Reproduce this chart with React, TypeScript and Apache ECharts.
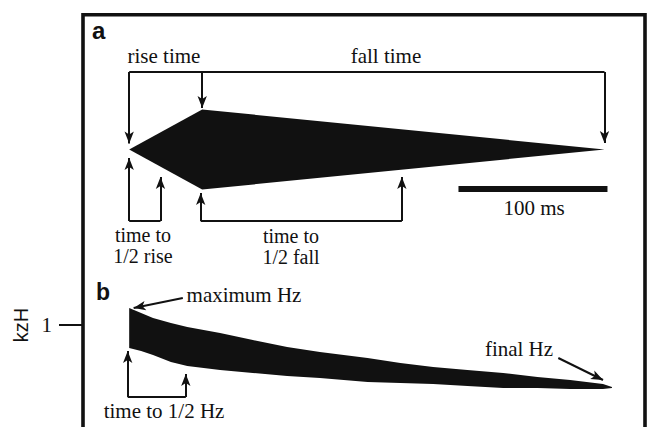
import React, { useEffect, useRef } from "react";
import * as echarts from "echarts";

// Panel a: amplitude envelope (time in ms, relative amplitude)
const envelopeTimeMs = [0, 49, 319, 49];
const envelopeAmp = [0, 1, 0, -1];

// Panel b: frequency band (time in ms, kHz)
const bandTimeMs = [0, 8, 16, 28, 39, 61, 83, 106, 128, 160, 182, 204, 227, 251, 274, 296, 318, 324];
const bandTopKHz = [1.17, 1.12, 1.07, 1.02, 0.98, 0.92, 0.85, 0.78, 0.73, 0.67, 0.62, 0.58, 0.55, 0.52, 0.48, 0.45, 0.41, 0.38];
const bandBottomKHz = [0.77, 0.74, 0.7, 0.63, 0.59, 0.55, 0.52, 0.49, 0.47, 0.43, 0.42, 0.41, 0.39, 0.37, 0.37, 0.36, 0.36, 0.37];

// Annotation landmarks (ms)
const riseTimeMs = 49;
const fallEndMs = 319;
const halfRiseMs = 21;
const halfFallMs = 183;
const halfHzMs = 38;
const scaleBarMs = [221, 321];
const kHzTicks = [1];

const INK = "#111";
const SERIF = "Liberation Serif";
const SANS = "Liberation Sans";

type Seg = { from: number[]; to: number[]; arrow: boolean; width?: number };

const segsA: Seg[] = [
  { from: [0, 1.94], to: [fallEndMs, 1.94], arrow: false },
  { from: [0, 1.94], to: [0, 0.15], arrow: true },
  { from: [riseTimeMs, 1.94], to: [riseTimeMs, 1.04], arrow: true },
  { from: [fallEndMs, 1.94], to: [fallEndMs, 0.16], arrow: true },
  { from: [0, -1.79], to: [halfRiseMs, -1.79], arrow: false },
  { from: [0, -1.79], to: [0, -0.21], arrow: true },
  { from: [halfRiseMs, -1.79], to: [halfRiseMs, -0.69], arrow: true },
  { from: [48, -1.79], to: [halfFallMs, -1.79], arrow: false },
  { from: [48, -1.79], to: [48, -1.09], arrow: true },
  { from: [halfFallMs, -1.79], to: [halfFallMs, -0.69], arrow: true },
  { from: [scaleBarMs[0], -0.99], to: [scaleBarMs[1], -0.99], arrow: false, width: 6 },
];

const segsB: Seg[] = [
  { from: [-1, 0.28], to: [halfHzMs, 0.28], arrow: false },
  { from: [-1, 0.28], to: [-1, 0.74], arrow: true },
  { from: [halfHzMs, 0.28], to: [halfHzMs, 0.51], arrow: true },
  { from: [36, 1.27], to: [3, 1.17], arrow: true },
  { from: [288, 0.67], to: [318, 0.45], arrow: true },
];

function toMarkLine(segs: Seg[]) {
  return {
    silent: true,
    animation: false,
    symbol: ["none", "arrow"],
    symbolSize: [7, 12],
    label: { show: false },
    emphasis: { disabled: true },
    lineStyle: { color: INK, width: 2, type: "solid" },
    data: segs.map((s) => [
      { coord: s.from, symbol: "none", lineStyle: { color: INK, width: s.width || 2, type: "solid" } },
      { coord: s.to, symbol: s.arrow ? "arrow" : "none" },
    ]),
  };
}

function txt(text: string, x: number, y: number, opts: any = {}) {
  return {
    type: "text",
    x,
    y,
    silent: true,
    style: {
      text,
      fill: INK,
      fontFamily: opts.family || SERIF,
      fontSize: opts.size || 21,
      fontWeight: opts.weight || "normal",
      textAlign: opts.align || "center",
      textVerticalAlign: "middle",
      lineHeight: opts.lineHeight || 21,
    },
  };
}

export default function App() {
  const ref = useRef<HTMLDivElement>(null);
  useEffect(() => {
    document.body.style.margin = "0";
    const chart = echarts.init(ref.current!, null, { renderer: "svg" });
    const xAxisBase = { type: "value", min: -31, max: 345, show: false };
    chart.setOption({
      animation: false,
      backgroundColor: "#fff",
      grid: [
        { left: 83, width: 560.24, top: 29.5, height: 240 },
        { left: 83, width: 560.24, top: 225, height: 200 },
      ],
      xAxis: [
        { ...xAxisBase, gridIndex: 0 },
        { ...xAxisBase, gridIndex: 1 },
      ],
      yAxis: [
        { type: "value", gridIndex: 0, min: -3, max: 3, show: false },
        {
          type: "value",
          gridIndex: 1,
          min: 0,
          max: 2,
          interval: 1,
          position: "left",
          axisLine: { show: false, onZero: false },
          splitLine: { show: false },
          axisTick: { show: true, length: 24, customValues: kHzTicks, lineStyle: { color: INK, width: 2 } },
          axisLabel: { show: true, customValues: kHzTicks, margin: 31, color: INK, fontFamily: SERIF, fontSize: 21 },
          name: "kzH",
          nameLocation: "middle",
          nameRotate: 90,
          nameGap: 49,
          nameTextStyle: { color: INK, fontFamily: SANS, fontSize: 20 },
        },
      ],
      series: [
        {
          type: "custom",
          xAxisIndex: 0,
          yAxisIndex: 0,
          silent: true,
          data: [[0, 0]],
          renderItem: (_p: any, api: any) => ({
            type: "polygon",
            shape: { points: envelopeTimeMs.map((t, i) => api.coord([t, envelopeAmp[i]])) },
            style: { fill: INK },
          }),
        },
        {
          type: "custom",
          xAxisIndex: 1,
          yAxisIndex: 1,
          silent: true,
          data: [[0, 0]],
          renderItem: (_p: any, api: any) => {
            const top = bandTimeMs.map((t, i) => api.coord([t, bandTopKHz[i]]));
            const bot = bandTimeMs.map((t, i) => api.coord([t, bandBottomKHz[i]])).reverse();
            return { type: "polygon", shape: { points: top.concat(bot) }, style: { fill: INK } };
          },
        },
        { type: "line", xAxisIndex: 0, yAxisIndex: 0, data: [], markLine: toMarkLine(segsA) },
        { type: "line", xAxisIndex: 1, yAxisIndex: 1, data: [], markLine: toMarkLine(segsB) },
      ],
      graphic: [
        {
          type: "rect",
          silent: true,
          shape: { x: 83, y: 14.8, width: 562, height: 460 },
          style: { fill: "none", stroke: INK, lineWidth: 3.6 },
        },
        txt("a", 92, 30, { align: "left", family: SANS, weight: "bold", size: 24 }),
        txt("b", 96, 292, { align: "left", family: SANS, weight: "bold", size: 23 }),
        txt("rise time", 164, 56),
        txt("fall time", 386, 56),
        txt("time to\n1/2 rise", 143, 245, { size: 20, lineHeight: 21 }),
        txt("time to\n1/2 fall", 291, 246, { size: 20, lineHeight: 21 }),
        txt("100 ms", 534, 208),
        txt("maximum Hz", 244, 295),
        txt("final Hz", 519, 349),
        txt("time to 1/2 Hz", 164, 411),
      ],
    });
    return () => chart.dispose();
  }, []);
  return <div ref={ref} style={{ width: 649, height: 427 }} />;
}
